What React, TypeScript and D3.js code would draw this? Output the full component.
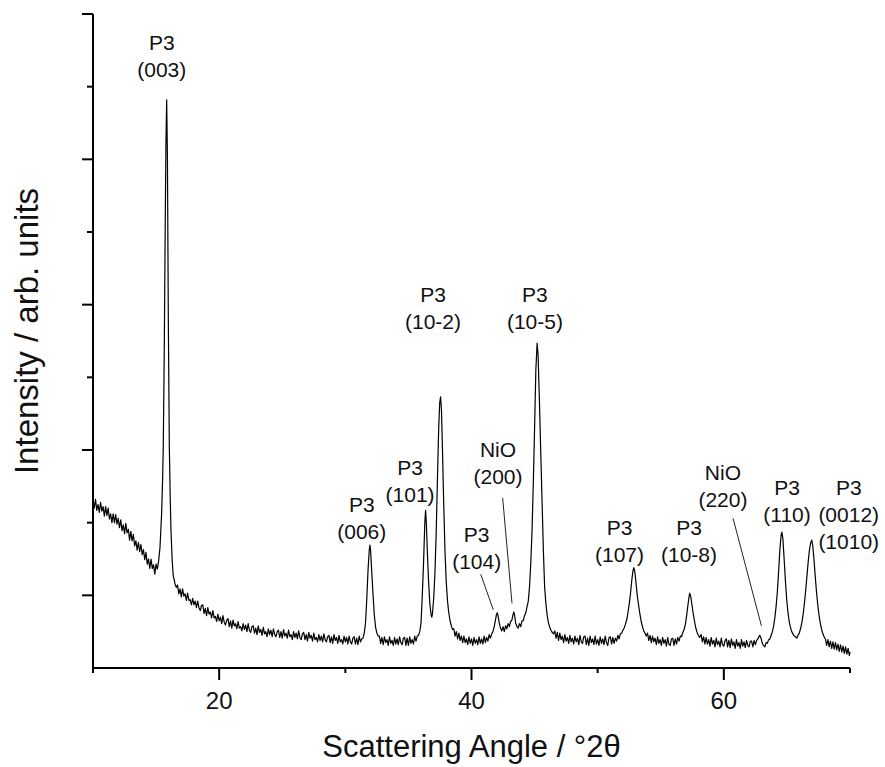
import React from "react";
import * as d3 from "d3";

// X-ray diffraction pattern: [2θ (degrees), intensity (arb. units)]
const xrdPattern: [number, number][] = [
  [10.0,232],[10.1,220],[10.2,232],[10.3,217],[10.4,225],[10.5,214],[10.6,228],[10.7,216],[10.8,222],[10.9,209],
  [11.0,222],[11.1,210],[11.2,220],[11.3,205],[11.4,212],[11.5,200],[11.6,212],[11.7,200],[11.8,211],[11.9,198],
  [12.0,206],[12.1,193],[12.2,204],[12.3,189],[12.4,197],[12.5,185],[12.6,199],[12.7,186],[12.8,191],[12.9,176],
  [13.0,188],[13.1,175],[13.2,184],[13.3,168],[13.4,175],[13.5,162],[13.6,173],[13.7,160],[13.8,170],[13.9,156],
  [14.0,163],[14.1,149],[14.2,159],[14.3,143],[14.4,150],[14.5,137],[14.6,150],[14.7,137],[14.8,142],[14.9,129],
  [15.0,143],[15.1,136],
  [15.2,147],[15.31,166],[15.44,213],[15.52,262],[15.57,304],[15.65,440],[15.72,600],[15.78,720],[15.84,782],
  [15.9,700],[15.97,480],[16.05,304],[16.12,235],[16.18,190],[16.27,150],[16.36,127],[16.5,116],[16.6,111],
  [16.7,114],[16.8,102],[16.9,109],[17.0,98],[17.1,109],[17.2,99],[17.3,102],[17.4,93],[17.5,103],[17.6,93],
  [17.7,94],[17.8,87],[17.9,96],[18.0,87],[18.1,92],[18.2,83],[18.3,92],[18.4,83],[18.5,79],[18.6,86],
  [18.7,87],[18.8,75],[18.9,82],[19.0,72],[19.1,83],[19.2,74],[19.3,77],[19.4,69],[19.5,79],[19.6,69],
  [19.7,71],[19.8,64],[19.9,74],[20.0,65],[20.1,70],[20.2,61],[20.3,72],[20.4,63],[20.5,59],[20.6,66],
  [20.7,68],[20.8,57],[20.9,65],[21.0,55],[21.1,66],[21.2,58],[21.3,61],[21.4,54],[21.5,64],[21.6,55],
  [21.7,57],[21.8,51],[21.9,61],[22.0,53],[22.1,59],[22.2,50],[22.3,61],[22.4,52],[22.5,49],[22.6,57],
  [22.7,58],[22.8,48],[22.9,55],[23.0,46],[23.1,58],[23.2,49],[23.3,53],[23.4,45],[23.5,56],[23.6,47],
  [23.7,50],[23.8,43],[23.9,54],[24.0,46],[24.1,52],[24.2,43],[24.3,54],[24.4,46],[24.5,43],[24.6,50],
  [24.7,52],[24.8,42],[24.9,50],[25.0,41],[25.1,53],[25.2,44],[25.3,48],[25.4,41],[25.5,52],[25.6,43],
  [25.7,46],[25.8,39],[25.9,50],[26.0,42],[26.1,48],[26.2,40],[26.3,51],[26.4,42],[26.5,39],[26.6,47],
  [26.7,49],[26.8,39],[26.9,46],[27.0,37],[27.1,49],[27.2,41],[27.3,45],[27.4,37],[27.5,48],[27.6,39],
  [27.7,42],[27.8,36],[27.9,46],[28.0,38],[28.1,44],[28.2,36],[28.3,47],[28.4,39],[28.5,36],[28.6,43],
  [28.7,45],[28.8,35],[28.9,43],[29.0,34],[29.1,46],[29.2,38],[29.3,42],[29.4,34],[29.5,45],[29.6,36],
  [29.7,39],[29.8,33],[29.9,44],[30.0,36],[30.1,42],[30.2,33],[30.3,44],[30.4,36],[30.5,33],[30.6,41],
  [30.7,43],[30.8,33],[30.9,41],[31.0,32],[31.1,44],[31.2,36],[31.3,40],
  [31.4,41],[31.5,48],[31.6,62],[31.7,95],[31.8,135],[31.9,163],[31.95,169],[32.0,162],[32.1,130],[32.2,100],
  [32.3,72],[32.4,56],[32.5,48],[32.6,44],
  [32.7,44],[32.8,34],[32.9,42],[33.0,32],[33.1,43],[33.2,35],[33.3,39],[33.4,31],[33.5,43],[33.6,34],
  [33.7,38],[33.8,31],[33.9,42],[34.0,33],[34.1,40],[34.2,32],[34.3,43],[34.4,35],[34.5,32],[34.6,41],
  [34.7,42],[34.8,31],[34.9,41],[35.0,31],[35.1,43],[35.2,34],[35.3,39],[35.4,33],[35.5,44],[35.6,37],
  [35.7,44],[35.8,45],
  [35.9,50],[36.0,62],[36.1,100],[36.2,145],[36.3,200],[36.36,217],[36.42,200],[36.5,160],[36.6,118],[36.7,88],
  [36.8,73],[36.85,70],[36.9,74],[37.0,95],[37.1,130],[37.2,185],[37.3,260],[37.4,330],[37.48,365],[37.55,373],
  [37.62,355],[37.7,300],[37.8,225],[37.9,160],[38.0,118],[38.1,92],[38.2,76],[38.3,65],[38.4,58],[38.5,53],
  [38.6,54],[38.7,44],[38.8,50],[38.9,40],[39.0,48],[39.1,38],[39.2,44],[39.3,35],[39.4,44],[39.5,35],
  [39.6,40],[39.7,32],[39.8,43],[39.9,34],[40.0,40],[40.1,31],[40.2,42],[40.3,34],[40.4,39],[40.5,32],
  [40.6,43],[40.7,34],[40.8,40],[40.9,33],[41.0,44],[41.1,35],[41.2,42],[41.3,37],[41.4,46],[41.5,41],
  [41.6,47],[41.7,50],[41.8,57],[41.9,66],[41.97,73],[42.04,76],[42.1,72],[42.2,62],[42.3,55],[42.4,51],
  [42.5,57],[42.6,50],[42.7,58],[42.8,54],[42.9,61],[43.0,57],[43.1,64],[43.2,66],[43.3,74],[43.36,77],
  [43.42,72],[43.5,62],[43.6,57],[43.7,55],[43.8,61],[43.9,57],[44.0,65],[44.1,65],[44.2,72],[44.3,76],
  [44.4,84],[44.5,92],[44.6,112],[44.7,145],[44.8,190],[44.9,255],[45.0,330],[45.1,410],[45.2,447],[45.28,430],
  [45.38,370],[45.5,290],[45.6,225],[45.7,160],[45.8,110],[45.9,88],[46.0,72],[46.1,62],[46.2,56],[46.3,52],
  [46.4,49],[46.5,47],
  [46.6,51],[46.7,41],[46.8,49],[46.9,38],[47.0,48],[47.1,39],[47.2,44],[47.3,35],[47.4,46],[47.5,37],
  [47.6,42],[47.7,34],[47.8,45],[47.9,36],[48.0,41],[48.1,33],[48.2,44],[48.3,36],[48.4,41],[48.5,32],
  [48.6,45],[48.7,36],[48.8,34],[48.9,43],[49.0,44],[49.1,32],[49.2,41],[49.3,31],[49.4,44],[49.5,35],
  [49.6,40],[49.7,32],[49.8,44],[49.9,33],[50.0,39],[50.1,31],[50.2,43],[50.3,34],[50.4,40],[50.5,32],
  [50.6,44],[50.7,35],[50.8,31],[50.9,42],[51.0,43],[51.1,33],[51.2,42],[51.3,34],[51.4,41],[51.5,37],
  [51.6,45],[51.7,40],[51.8,47],[51.9,48],
  [52.0,52],[52.1,55],[52.2,60],[52.3,66],[52.4,76],[52.5,88],[52.6,102],[52.7,120],[52.8,134],[52.87,138],
  [52.95,132],[53.05,115],[53.15,98],[53.25,86],[53.35,74],[53.45,64],[53.55,57],[53.65,51],[53.75,48],[53.85,44],
  [53.95,48],[54.05,38],[54.15,45],[54.25,35],[54.35,44],[54.45,36],[54.55,41],[54.65,32],[54.75,43],[54.85,34],
  [54.95,39],[55.05,31],[55.15,42],[55.25,34],[55.35,39],[55.45,30],[55.55,42],[55.65,33],[55.75,31],[55.85,40],
  [55.95,41],[56.05,31],[56.15,40],[56.25,33],[56.35,42],[56.45,37],[56.55,44],[56.65,43],[56.75,49],
  [56.85,53],[56.95,60],[57.05,72],[57.15,86],[57.25,99],[57.3,103],[57.38,98],[57.48,86],[57.58,74],[57.68,64],
  [57.78,55],[57.88,49],[57.98,45],[58.08,42],
  [58.2,46],[58.3,36],[58.4,43],[58.5,33],[58.6,42],[58.7,33],[58.8,39],[58.9,30],[59.0,42],[59.1,33],
  [59.2,38],[59.3,29],[59.4,41],[59.5,32],[59.6,37],[59.7,29],[59.8,41],[59.9,32],[60.0,30],[60.1,38],
  [60.2,40],[60.3,29],[60.4,38],[60.5,28],[60.6,40],[60.7,31],[60.8,36],[60.9,27],[61.0,39],[61.1,30],
  [61.2,35],[61.3,27],[61.4,39],[61.5,30],[61.6,36],[61.7,28],[61.8,38],[61.9,31],[62.0,29],[62.1,37],
  [62.2,37],[62.3,29],[62.4,38],[62.5,32],[62.6,38],[62.7,40],[62.8,44],[62.85,45],[62.95,41],[63.05,34],
  [63.15,31],[63.25,29],[63.35,35],[63.45,34],[63.55,39],[63.65,40],[63.75,45],[63.85,50],
  [63.95,58],[64.05,70],[64.15,86],[64.25,107],[64.35,135],[64.45,165],[64.55,184],[64.6,187],[64.68,178],[64.78,150],
  [64.88,120],[64.98,95],[65.08,77],[65.18,64],[65.28,56],[65.38,50],[65.48,47],[65.58,44],[65.68,43],[65.78,41],
  [65.88,45],[65.98,48],[66.08,54],[66.18,62],[66.28,73],[66.38,88],[66.48,105],[66.58,125],[66.68,145],[66.78,162],
  [66.88,172],[66.97,176],[67.05,168],[67.15,148],[67.25,125],[67.35,104],[67.45,86],[67.55,72],[67.65,61],[67.75,53],
  [67.85,47],[67.95,43],
  [68.05,40],[68.15,31],[68.25,39],[68.35,29],[68.45,37],[68.55,27],[68.65,36],[68.75,26],[68.85,35],[68.95,25],
  [69.05,33],[69.15,23],[69.25,32],[69.35,22],[69.45,30],[69.55,20],[69.65,29],[69.75,19],[69.85,27],[69.95,17],
  [70.0,22],
];

// Peak annotations: text lines and anchor (2θ, intensity of first baseline)
const peakLabelLines: string[][] = [
  ["P3", "(003)"],
  ["P3", "(006)"],
  ["P3", "(101)"],
  ["P3", "(10-2)"],
  ["P3", "(104)"],
  ["NiO", "(200)"],
  ["P3", "(10-5)"],
  ["P3", "(107)"],
  ["P3", "(10-8)"],
  ["NiO", "(220)"],
  ["P3", "(110)"],
  ["P3", "(0012)", "(1010)"],
];
const peakLabelAngle: number[] = [15.45, 31.3, 35.13, 36.95, 40.41, 42.1, 45.03, 51.73, 57.24, 59.93, 65.01, 69.9];
const peakLabelIntensity: number[] = [850, 215, 266, 504, 174, 290, 504, 183, 183, 259, 238, 238];

// Leader lines: [2θ start, intensity start, 2θ end, intensity end]
const leaderLines: [number, number, number, number][] = [
  [40.73, 129, 41.73, 80],
  [42.47, 234, 43.21, 89],
  [60.73, 206, 62.98, 58],
];

const xDomain: [number, number] = [10, 70];
const yDomain: [number, number] = [0, 900];
const xTickValues: number[] = [10, 20, 30, 40, 50, 60, 70];
const xTickLabels: number[] = [20, 40, 60];
const yTickValues: number[] = [100, 200, 300, 400, 500, 600, 700, 800, 900];
const yMajorTicks: number[] = [100, 300, 500, 700, 900];

const xTitle = "Scattering Angle / °2θ";
const yTitle = "Intensity / arb. units";

const W = 885;
const H = 767;
const FONT = "'Liberation Sans', Arial, Helvetica, sans-serif";

export default function App() {
  const x = d3.scaleLinear().domain(xDomain).range([93, 850]);
  const y = d3.scaleLinear().domain(yDomain).range([668, 14]);
  const line = d3
    .line<[number, number]>()
    .x((d) => x(d[0]))
    .y((d) => y(d[1]));

  const x0 = x(xDomain[0]);
  const x1 = x(xDomain[1]);
  const y0 = y(yDomain[0]);
  const yTop = y(yDomain[1]);

  return (
    <svg
      width={W}
      height={H}
      viewBox={`0 0 ${W} ${H}`}
      style={{ position: "absolute", left: 0, top: 0, background: "#fff" }}
      fontFamily={FONT}
    >
      <rect x={0} y={0} width={W} height={H} fill="#fff" />

      {/* data */}
      <path d={line(xrdPattern) || ""} fill="none" stroke="#000" strokeWidth={1.2} strokeLinejoin="round" />

      {/* leader lines */}
      {leaderLines.map((l, i) => (
        <line key={i} x1={x(l[0])} y1={y(l[1])} x2={x(l[2])} y2={y(l[3])} stroke="#222" strokeWidth={1} />
      ))}

      {/* peak labels */}
      {peakLabelLines.map((lines, i) => (
        <text
          key={i}
          x={x(peakLabelAngle[i])}
          y={y(peakLabelIntensity[i])}
          textAnchor="middle"
          fontSize={21}
          fill="#111"
        >
          {lines.map((t, j) => (
            <tspan key={j} x={x(peakLabelAngle[i])} dy={j === 0 ? 0 : 27}>
              {t}
            </tspan>
          ))}
        </text>
      ))}

      {/* axes */}
      <line x1={x0} y1={y0} x2={x1} y2={y0} stroke="#000" strokeWidth={2} />
      <line x1={x0} y1={y0 + 1} x2={x0} y2={yTop} stroke="#000" strokeWidth={2} />

      {xTickValues.map((v) => {
        const major = xTickLabels.includes(v);
        return (
          <line
            key={"xt" + v}
            x1={x(v)}
            x2={x(v)}
            y1={y0}
            y2={y0 + (major ? 12 : 5)}
            stroke="#000"
            strokeWidth={2}
          />
        );
      })}
      {xTickLabels.map((v) => (
        <text key={"xl" + v} x={x(v)} y={709} textAnchor="middle" fontSize={24} fill="#111">
          {v}
        </text>
      ))}

      {yTickValues.map((v) => {
        const major = yMajorTicks.includes(v);
        return (
          <line
            key={"yt" + v}
            x1={x0 - (major ? 11 : 6)}
            x2={x0}
            y1={y(v)}
            y2={y(v)}
            stroke="#000"
            strokeWidth={2}
          />
        );
      })}

      <text x={(x0 + x1) / 2} y={757} textAnchor="middle" fontSize={31} fill="#111">
        {xTitle}
      </text>
      <text
        transform={`translate(38,331) rotate(-90)`}
        textAnchor="middle"
        fontSize={33}
        fill="#111"
      >
        {yTitle}
      </text>
    </svg>
  );
}
